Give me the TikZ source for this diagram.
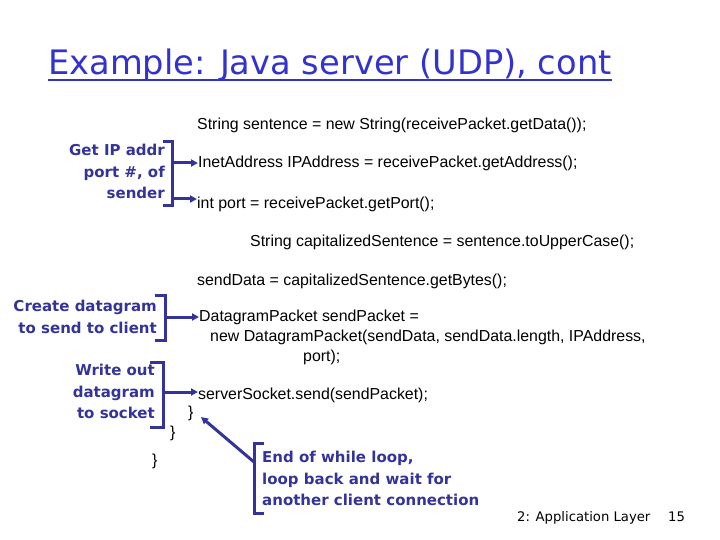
\documentclass[tikz,border=0pt]{standalone}
\usepackage{fontspec}
\setmainfont{Liberation Sans}
\newfontfamily\comic{DejaVu Sans}
\usetikzlibrary{arrows.meta}
\definecolor{titleblue}{RGB}{51,51,204}
\definecolor{navy}{RGB}{51,51,153}
\tikzset{
  code/.style={anchor=base west, inner sep=0pt, font=\fontsize{15.9}{17}\selectfont, text=black},
  lbl/.style={inner sep=0pt, font=\comic\bfseries\fontsize{15}{21.5}\selectfont, text=navy},
  brk/.style={draw=navy, line width=3pt},
  arr/.style={draw=navy, line width=3pt, -{Triangle[length=7pt,width=7pt]}},
}
\begin{document}
\begin{tikzpicture}[x=1pt,y=-1pt]
\useasboundingbox (0,0) rectangle (720,540);
% title
\node[anchor=base west, inner sep=0pt, font=\comic\fontsize{33.7}{40}\selectfont, text=titleblue] (title) at (48,75) {Example: Java server (UDP), cont};
\draw[titleblue, line width=2pt] (48,80) -- (title.east |- 0,80);
% code
\node[code] (c1) at (197,130) {String sentence = new String(receivePacket.getData());};
\node[code] (c2) at (198,168) {InetAddress IPAddress = receivePacket.getAddress();};
\node[code] (c3) at (197,208) {int port = receivePacket.getPort();};
\node[code] (c4) at (250,246) {String capitalizedSentence = sentence.toUpperCase();};
\node[code] (c5) at (197,285) {sendData = capitalizedSentence.getBytes();};
\node[code] (c6) at (199,321) {DatagramPacket sendPacket =};
\node[code] (c7) at (210,341) {new DatagramPacket(sendData, sendData.length, IPAddress,};
\node[code] (c8) at (303,361) {port);};
\node[code] (c9) at (198,399) {serverSocket.send(sendPacket);};
\node[code] (b1) at (188,417) {\}};
\node[code] (b2) at (170,437) {\}};
\node[code] (b3) at (152,465) {\}};
% labels
\node[lbl, align=right, anchor=north east] (l1) at (165,144) {Get IP addr\\port \#, of\\sender};
\node[lbl, align=right, anchor=north east] (l2) at (157,300) {Create datagram\\to send to client};
\node[lbl, align=right, anchor=north east] (l3) at (155,364) {Write out\\datagram\\to socket};
\node[lbl, align=left, anchor=north west] (l4) at (262,451) {End of while loop,\\loop back and wait for\\another client connection};
% brackets
\draw[brk] (163,142) -- (172,142) -- (172,206) -- (163,206);
\coordinate (a1s) at (172,163);
\coordinate (a2s) at (172,199);
\draw[arr] (a1s) -- (c2.west |- a1s);
\draw[arr] (a2s) -- (c3.west |- a2s);
\draw[brk] (155,295) -- (165,295) -- (165,340) -- (155,340);
\coordinate (a3s) at (165,317);
\draw[arr] (a3s) -- (c6.west |- a3s);
\draw[brk] (150,362) -- (163,362) -- (163,427) -- (150,427);
\coordinate (a4s) at (163,392);
\draw[arr] (a4s) -- (c9.west |- a4s);
\draw[brk] (264,443) -- (254,443) -- (254,513) -- (264,513);
\coordinate (a5s) at (254,462);
\coordinate (a5e) at (201,417);
\draw[arr] (a5s) -- (a5e);
% footer
\node[anchor=base west, inner sep=0pt, font=\comic\fontsize{13.2}{16}\selectfont] (f1) at (517,521) {2: Application Layer};
\node[anchor=base west, inner sep=0pt, font=\comic\fontsize{13.2}{16}\selectfont] (f2) at (668,521) {15};
\end{tikzpicture}
\end{document}
